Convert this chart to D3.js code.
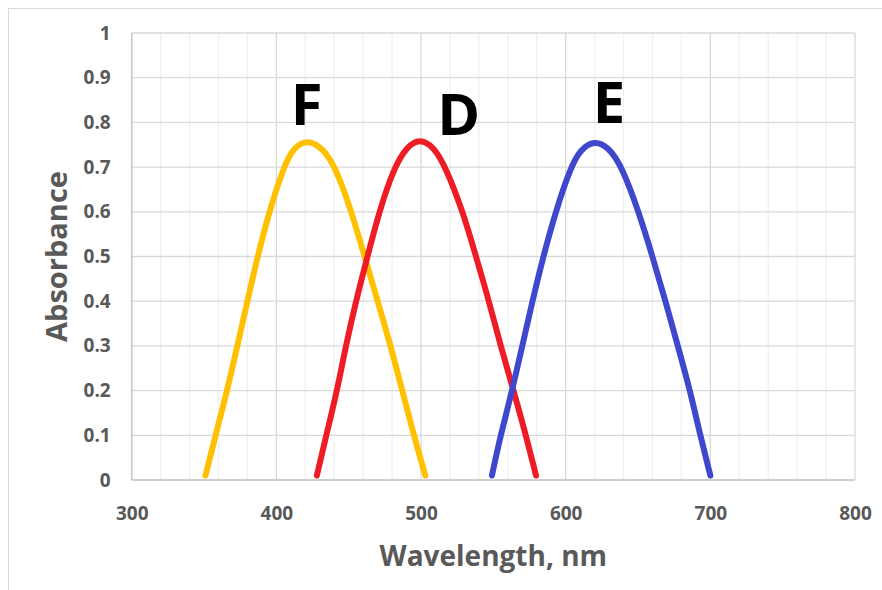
<!DOCTYPE html>
<html>
<head>
<meta charset="utf-8">
<script src="https://cdn.jsdelivr.net/npm/d3@7"></script>
<style>
  html, body { margin: 0; padding: 0; background: #fff; }
  svg { display: block; }
</style>
</head>
<body>
<svg width="882" height="590"></svg>
<script>
// curve readings (wavelength in nm, absorbance)
const wavelengthF = [351, 358, 366, 373, 380, 387, 395, 405, 412, 422, 432, 441, 452, 461, 470, 479, 487, 495, 503];
const absorbanceF = [0.01, 0.10, 0.20, 0.30, 0.40, 0.50, 0.60, 0.70, 0.745, 0.762, 0.742, 0.70, 0.60, 0.50, 0.40, 0.30, 0.20, 0.10, 0.01];

const wavelengthD = [428, 434.5, 442, 448, 455, 463, 471, 481.5, 490, 499, 509, 517, 529, 538, 547, 555, 564, 572.5, 579.5];
const absorbanceD = [0.01, 0.10, 0.20, 0.30, 0.40, 0.50, 0.60, 0.70, 0.745, 0.764, 0.745, 0.70, 0.60, 0.50, 0.40, 0.30, 0.20, 0.10, 0.01];

const wavelengthE = [549, 555, 563, 570, 577, 584.5, 593, 603.5, 610, 619.5, 630, 639, 650.5, 660, 669, 677.5, 686, 693, 700];
const absorbanceE = [0.01, 0.10, 0.20, 0.30, 0.40, 0.50, 0.60, 0.70, 0.738, 0.76, 0.744, 0.70, 0.60, 0.50, 0.40, 0.30, 0.20, 0.10, 0.01];

const seriesNames = ['F', 'D', 'E'];
const seriesColors = ['#FFC000', '#EE1C25', '#3F48CC'];

// letter annotations, anchored in data units (baseline)
const labelWavelength = [421, 526, 630];
const labelAbsorbance = [0.794, 0.772, 0.799];

const xTicks = [300, 400, 500, 600, 700, 800];
const xMinorTicks = d3.range(300, 801, 20);
const yTicks = [0, 0.1, 0.2, 0.3, 0.4, 0.5, 0.6, 0.7, 0.8, 0.9, 1];

const series = [
  wavelengthF.map((w, i) => [w, absorbanceF[i]]),
  wavelengthD.map((w, i) => [w, absorbanceD[i]]),
  wavelengthE.map((w, i) => [w, absorbanceE[i]])
];

const plotLeft = 131.7, plotRight = 855, plotTop = 33, plotBottom = 480;
const font = '"Open Sans", "Liberation Sans", sans-serif';
const gray = '#595959';

const svg = d3.select('svg');

svg.append('rect')
  .attr('x', 8.5).attr('y', 8.5)
  .attr('width', 900).attr('height', 600)
  .attr('fill', '#fff')
  .attr('stroke', '#d9d9d9');

const x = d3.scaleLinear().domain([300, 800]).range([plotLeft, plotRight]);
const y = d3.scaleLinear().domain([0, 1]).range([plotBottom, plotTop]);

// minor vertical grid
svg.append('g')
  .selectAll('line')
  .data(xMinorTicks.filter(d => !xTicks.includes(d)))
  .enter()
  .append('line')
  .attr('x1', d => x(d)).attr('x2', d => x(d))
  .attr('y1', plotTop).attr('y2', plotBottom)
  .attr('stroke', '#f0f0f0')
  .attr('stroke-width', 1.3);

// major grid
svg.append('g')
  .selectAll('line')
  .data(xTicks)
  .enter()
  .append('line')
  .attr('x1', d => x(d)).attr('x2', d => x(d))
  .attr('y1', plotTop).attr('y2', plotBottom)
  .attr('stroke', '#d9d9d9')
  .attr('stroke-width', 1.3);

svg.append('g')
  .selectAll('line')
  .data(yTicks)
  .enter()
  .append('line')
  .attr('x1', plotLeft).attr('x2', plotRight)
  .attr('y1', d => y(d)).attr('y2', d => y(d))
  .attr('stroke', '#d9d9d9')
  .attr('stroke-width', 1.3);

// axes lines
svg.append('line')
  .attr('x1', plotLeft).attr('x2', plotRight)
  .attr('y1', plotBottom).attr('y2', plotBottom)
  .attr('stroke', '#c8c8c8').attr('stroke-width', 1.5);
svg.append('line')
  .attr('x1', plotLeft).attr('x2', plotLeft)
  .attr('y1', plotTop).attr('y2', plotBottom)
  .attr('stroke', '#c8c8c8').attr('stroke-width', 1.5);

// tick labels
const xAxis = svg.append('g')
  .attr('transform', `translate(0,${plotBottom + 23})`)
  .call(d3.axisBottom(x).tickValues(xTicks).tickSize(0).tickFormat(d3.format('d')));
xAxis.select('.domain').remove();
xAxis.selectAll('text')
  .attr('dy', '0.71em')
  .style('font', `bold 19px ${font}`)
  .attr('fill', gray);

const yAxis = svg.append('g')
  .attr('transform', `translate(${plotLeft - 21},0)`)
  .call(d3.axisLeft(y).tickValues(yTicks).tickSize(0).tickFormat(d => String(+d.toFixed(1))));
yAxis.select('.domain').remove();
yAxis.selectAll('text')
  .attr('x', 0)
  .style('font', `bold 19px ${font}`)
  .attr('fill', gray);

// axis titles
svg.append('text')
  .attr('x', (plotLeft + plotRight) / 2)
  .attr('y', 566)
  .attr('text-anchor', 'middle')
  .style('font', `bold 28px ${font}`)
  .attr('fill', gray)
  .text('Wavelength, nm');

svg.append('text')
  .attr('transform', `translate(67,${(plotTop + plotBottom) / 2}) rotate(-90)`)
  .attr('text-anchor', 'middle')
  .style('font', `bold 29px ${font}`)
  .attr('fill', gray)
  .text('Absorbance');

// curves
const line = d3.line()
  .x(d => x(d[0]))
  .y(d => y(d[1]))
  .curve(d3.curveBasis);

svg.append('g')
  .attr('fill', 'none')
  .selectAll('path')
  .data(series)
  .enter()
  .append('path')
  .attr('d', line)
  .attr('stroke', (d, i) => seriesColors[i])
  .attr('stroke-width', 6)
  .attr('stroke-linecap', 'round')
  .attr('stroke-linejoin', 'round');

// letter labels
svg.append('g')
  .selectAll('text')
  .data(seriesNames)
  .enter()
  .append('text')
  .attr('x', (d, i) => x(labelWavelength[i]))
  .attr('y', (d, i) => y(labelAbsorbance[i]))
  .attr('text-anchor', 'middle')
  .style('font', `bold 58px ${font}`)
  .attr('fill', '#000')
  .text(d => d);
</script>
</body>
</html>
